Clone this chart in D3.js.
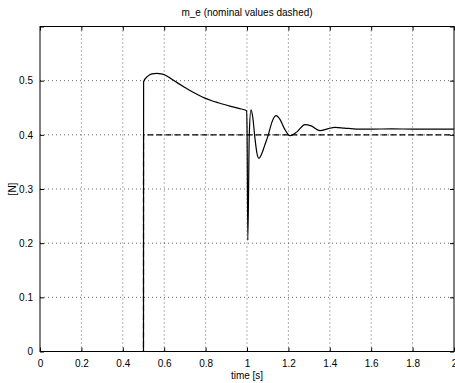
<!DOCTYPE html>
<html><head><meta charset="utf-8">
<script src="https://cdn.jsdelivr.net/npm/d3@7"></script>
<style>body{margin:0;background:#fff}svg{display:block}text{font-family:"Liberation Sans",Arial,sans-serif;}</style>
</head><body>
<script>
const titleText = "m_e (nominal values dashed)";
const xLabel = "time [s]";
const yLabel = "[N]";
const xTicks = [0,0.2,0.4,0.6,0.8,1,1.2,1.4,1.6,1.8,2];
const xTickLabels = ["0","0.2","0.4","0.6","0.8","1","1.2","1.4","1.6","1.8","2"];
const yTicks = [0,0.1,0.2,0.3,0.4,0.5,0.6];
const yTickLabels = ["0","0.1","0.2","0.3","0.4","0.5",""];
// actual m_e (solid)
const actualT = [0,0.4999,0.5005,0.52,0.54,0.564,0.585,0.604,0.635,0.668,0.70,0.733,0.765,0.797,0.83,0.861,0.895,0.926,0.96,0.9985,1.0005,1.004,1.011,1.019,1.028,1.038,1.048,1.058,1.07,1.085,1.103,1.12,1.14,1.16,1.18,1.208,1.24,1.28,1.31,1.353,1.39,1.425,1.47,1.53,1.6,1.7,1.8,1.9,2.0];
const actualV = [0,0,0.498,0.508,0.5125,0.5135,0.5125,0.5105,0.503,0.495,0.4875,0.480,0.4735,0.4678,0.4630,0.4593,0.4555,0.4522,0.4487,0.4445,0.40,0.205,0.40,0.446,0.432,0.395,0.366,0.3566,0.364,0.38,0.40,0.423,0.4353,0.428,0.412,0.3984,0.405,0.419,0.4165,0.4076,0.411,0.4138,0.4125,0.4107,0.4105,0.411,0.4105,0.4105,0.4105];
// nominal (dashed)
const nominalT = [0,0.4999,0.5001,2.0];
const nominalV = [0,0,0.4,0.4];

const W=455,H=383;
const m={l:40,r:454,t:26.5,b:351.5};
const svg=d3.select("body").append("svg").attr("width",W).attr("height",H);
const x=d3.scaleLinear().domain([0,2]).range([m.l,m.r]);
const y=d3.scaleLinear().domain([0,0.6]).range([m.b,m.t]);

// grid
const g=svg.append("g");
xTicks.slice(1,-1).forEach(t=>g.append("line").attr("x1",x(t)).attr("x2",x(t)).attr("y1",m.t).attr("y2",m.b).attr("stroke","#000").attr("stroke-width",0.6).attr("stroke-dasharray","1,3"));
yTicks.slice(1,-1).forEach(t=>g.append("line").attr("x1",m.l).attr("x2",m.r).attr("y1",y(t)).attr("y2",y(t)).attr("stroke","#000").attr("stroke-width",0.6).attr("stroke-dasharray","1,3"));

// lines
const line=d3.line().x(d=>x(d[0])).y(d=>y(d[1]));
svg.append("path").datum(nominalT.map((t,i)=>[t,nominalV[i]])).attr("d",line).attr("fill","none").attr("stroke","#000").attr("stroke-width",1.2).attr("stroke-dasharray","6,3");
svg.append("path").datum(actualT.map((t,i)=>[t,actualV[i]])).attr("d",line.curve(d3.curveMonotoneX)).attr("fill","none").attr("stroke","#000").attr("stroke-width",1.2);

// axes (inward ticks)
const tl=4;
const xb=d3.axisBottom(x).tickValues(xTicks).tickFormat((d,i)=>xTickLabels[i]).tickSizeInner(-tl).tickSizeOuter(0).tickPadding(8);
const xt=d3.axisTop(x).tickValues(xTicks).tickFormat("").tickSizeInner(-tl).tickSizeOuter(0);
const yl=d3.axisLeft(y).tickValues(yTicks).tickFormat((d,i)=>yTickLabels[i]).tickSizeInner(-tl).tickSizeOuter(0).tickPadding(7);
const yr=d3.axisRight(y).tickValues(yTicks).tickFormat("").tickSizeInner(-tl).tickSizeOuter(0);
[[xb,`translate(0,${m.b})`],[xt,`translate(0,${m.t})`],[yl,`translate(${m.l},0)`],[yr,`translate(${m.r},0)`]].forEach(([a,tr])=>{
  const s=svg.append("g").attr("transform",tr).call(a);
  s.selectAll("text").attr("font-size",10).attr("fill","#000").style("font-family","'Liberation Sans',Arial,sans-serif");
  s.selectAll("line").attr("stroke","#000");
  s.select(".domain").remove();
});
svg.append("rect").attr("x",m.l).attr("y",m.t).attr("width",m.r-m.l).attr("height",m.b-m.t).attr("fill","none").attr("stroke","#000").attr("stroke-width",1);

svg.append("text").attr("x",247).attr("y",16).attr("text-anchor","middle").attr("font-size",10).text(titleText);
svg.append("text").attr("x",247).attr("y",379).attr("text-anchor","middle").attr("font-size",10).text(xLabel);
svg.append("text").attr("transform","translate(16,189) rotate(-90)").attr("text-anchor","middle").attr("font-size",10).text(yLabel);
</script>
</body></html>
